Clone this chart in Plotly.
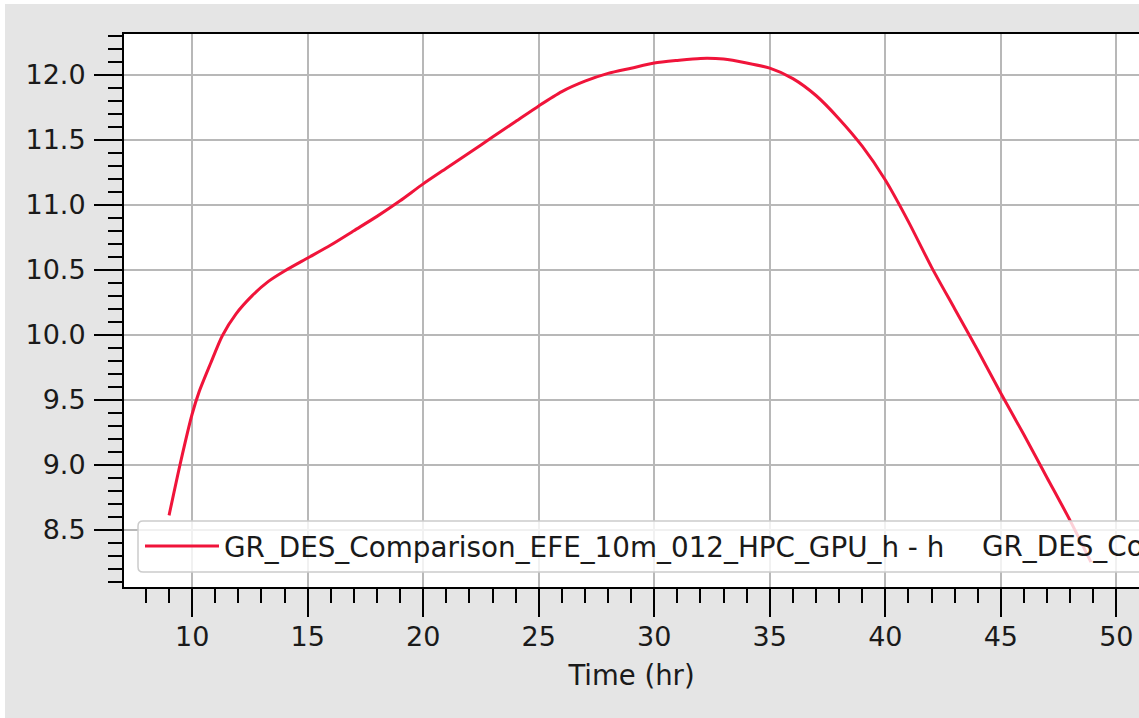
import plotly.graph_objects as go

# ---- data ----
time_hr = [9.0, 9.5, 10.0, 10.3, 10.8, 11.3, 11.9, 12.6, 13.3, 14.0, 15.0, 16.0, 17.0,
           18.0, 19.0, 20.0, 21.0, 22.0, 23.0, 24.0, 25.0, 26.0, 27.0, 28.0, 29.0, 30.0,
           31.0, 32.0, 33.0, 34.0, 35.0, 36.0, 37.0, 38.0, 39.0, 40.0, 41.0, 42.0, 43.0,
           44.0, 45.0, 46.0, 47.0, 48.0, 48.9]
h_values = [8.61, 9.02, 9.39, 9.56, 9.78, 9.99, 10.16, 10.30, 10.41, 10.49, 10.59, 10.69, 10.80,
            10.91, 11.03, 11.16, 11.28, 11.40, 11.52, 11.64, 11.76, 11.87, 11.95, 12.01, 12.05, 12.09,
            12.11, 12.125, 12.12, 12.09, 12.05, 11.97, 11.84, 11.66, 11.45, 11.19, 10.87, 10.52, 10.20,
            9.88, 9.55, 9.23, 8.90, 8.57, 8.25]

series1_name = "GR_DES_Comparison_EFE_10m_012_HPC_GPU_h - h"
series2_name = "GR_DES_Comparison"

x_title = "Time (hr)"

FONT = "DejaVu Sans"
TXT = "#1a1a1a"

fig = go.Figure()
fig.add_trace(go.Scatter(x=time_hr, y=h_values, mode="lines", name=series1_name,
                         line=dict(color="#f0143a", width=3, shape="spline", smoothing=0.7)))

W, H = 1139, 718
L, T, B, R = 124, 34, 131, 0
pw, ph = W - L - R, H - T - B

def px(xp):
    return (xp - L) / pw

def py(yp):
    return (H - B - yp) / ph

# legend box (semi-transparent, rounded corners)
x0, x1 = px(138), px(1160)
y0, y1 = py(572), py(521)
rx, ry = 5 / pw, 5 / ph
path = (f"M{x0+rx},{y0} L{x1-rx},{y0} Q{x1},{y0} {x1},{y0+ry} L{x1},{y1-ry} Q{x1},{y1} {x1-rx},{y1} "
        f"L{x0+rx},{y1} Q{x0},{y1} {x0},{y1-ry} L{x0},{y0+ry} Q{x0},{y0} {x0+rx},{y0} Z")

shapes = [
    dict(type="path", path=path, xref="paper", yref="paper", layer="above",
         fillcolor="rgba(255,255,255,0.8)", line=dict(color="#cccccc", width=1.5)),
    dict(type="rect", xref="paper", yref="paper", x0=px(-10), x1=px(1200), y0=py(4), y1=py(-10),
         fillcolor="white", line=dict(width=0), layer="above"),
    dict(type="rect", xref="paper", yref="paper", x0=px(-10), x1=px(5), y0=py(730), y1=py(-10),
         fillcolor="white", line=dict(width=0), layer="above"),
]

axis_common = dict(
    showline=True, linecolor="black", linewidth=2,
    ticks="outside", ticklen=28, tickwidth=2, tickcolor="black",
    showgrid=True, gridcolor="#b8b8b8", gridwidth=1.5,
    zeroline=False,
    tickfont=dict(family=FONT, size=27, color=TXT),
)

fig.update_layout(
    width=W, height=H,
    margin=dict(l=L, r=R, t=T, b=B),
    paper_bgcolor="#e5e5e5", plot_bgcolor="white",
    font=dict(family=FONT, size=27, color=TXT),
    xaxis=dict(range=[7.05, 50.98], dtick=5, tick0=0, mirror=True, ticklabelstandoff=-3,
               minor=dict(dtick=1, tick0=0, ticks="outside", ticklen=14, tickwidth=2,
                          tickcolor="black", showgrid=False),
               title=dict(text=x_title, font=dict(family=FONT, size=27.5, color=TXT), standoff=14),
               **axis_common),
    yaxis=dict(range=[8.059, 12.313], dtick=0.5, tick0=0, tickformat=".1f", mirror=False,
               ticklabelstandoff=3,
               minor=dict(dtick=0.1, tick0=0, ticks="outside", ticklen=14, tickwidth=2,
                          tickcolor="black", showgrid=False),
               **axis_common),
    legend=dict(x=px(140), xanchor="left", y=py(546.5), yanchor="middle", orientation="h",
                bgcolor="rgba(0,0,0,0)", borderwidth=0, itemwidth=74,
                font=dict(family=FONT, size=27.8, color=TXT)),
    annotations=[dict(text=series2_name, xref="paper", yref="paper", x=px(980), y=py(546.5),
                      xanchor="left", yanchor="middle", showarrow=False,
                      font=dict(family=FONT, size=27.8, color=TXT))],
    shapes=shapes,
    showlegend=True,
)

fig.write_html("out.html", config={"displayModeBar": False},
               post_script="document.body.style.margin='0';document.body.style.overflow='hidden';")
